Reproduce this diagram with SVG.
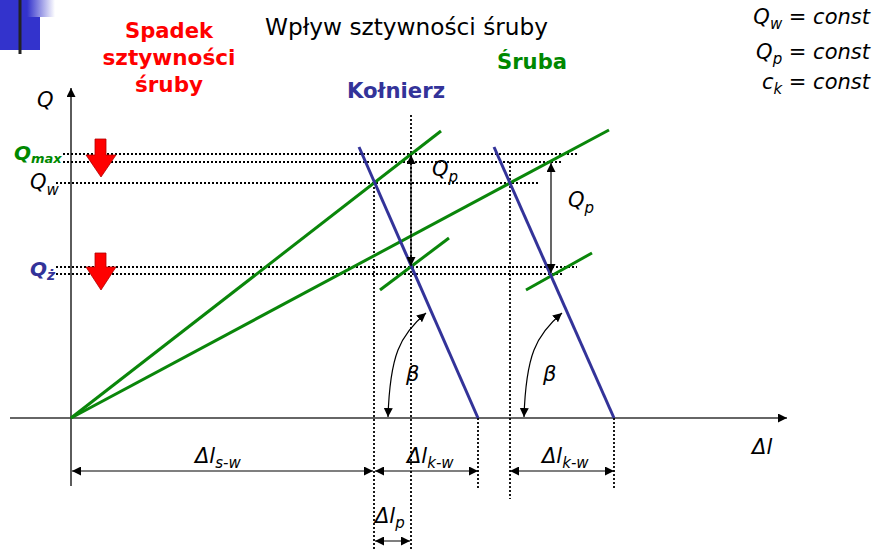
<svg xmlns="http://www.w3.org/2000/svg" width="883" height="549" viewBox="0 0 883 549">
<style>
text{font-family:"DejaVu Sans","Liberation Sans",sans-serif;}
.it{font-style:italic;font-size:21px;fill:#000;}
.sub{font-size:15px;}
.axis{stroke:#333;stroke-width:1.6;fill:none;}
.dot{stroke:#000;stroke-width:1.8;stroke-dasharray:2 2;fill:none;}
.green{stroke:#0a860a;stroke-width:3;fill:none;}
.blue{stroke:#333399;stroke-width:3;fill:none;}
.dim{stroke:#000;stroke-width:1.2;fill:none;}
.red{fill:#ff0000;stroke:#b00000;stroke-width:0.8;}
</style>
<defs>
<linearGradient id="fade" x1="0" y1="0" x2="1" y2="0">
<stop offset="0" stop-color="#3333cc"/>
<stop offset="1" stop-color="#3333cc" stop-opacity="0"/>
</linearGradient>
<marker id="ah" viewBox="0 0 10 10" refX="10" refY="5" markerWidth="9" markerHeight="9" markerUnits="userSpaceOnUse" orient="auto-start-reverse">
<path d="M0,0 L10,5 L0,10 z" fill="#000"/>
</marker>
</defs>
<g id="decoration">
<rect x="0" y="0" width="27" height="17" fill="#3333cc"/>
<rect x="27" y="0" width="28" height="17" fill="url(#fade)"/>
<rect x="0" y="17" width="40" height="33" fill="#3333cc"/>
<line x1="20" y1="0" x2="20" y2="54" stroke="#222" stroke-width="3"/>
</g>
<g id="title">
<text x="265" y="35" font-size="23" fill="#000" textLength="283" lengthAdjust="spacingAndGlyphs">Wpływ sztywności śruby</text>
</g>
<g id="label-spadek" fill="#ff0000" font-weight="bold" font-size="21" text-anchor="middle">
<text x="169" y="38" fill="#ff0000" font-weight="bold" textLength="88" lengthAdjust="spacingAndGlyphs">Spadek</text>
<text x="169" y="65" fill="#ff0000" font-weight="bold" textLength="133" lengthAdjust="spacingAndGlyphs">sztywności</text>
<text x="169" y="92" fill="#ff0000" font-weight="bold" textLength="68" lengthAdjust="spacingAndGlyphs">śruby</text>
</g>
<g id="label-kolnierz">
<text x="347" y="98" font-size="21" font-weight="bold" fill="#333399" textLength="98" lengthAdjust="spacingAndGlyphs">Kołnierz</text>
</g>
<g id="label-sruba">
<text x="497" y="69" font-size="21" font-weight="bold" fill="#008800" textLength="70" lengthAdjust="spacingAndGlyphs">Śruba</text>
</g>
<g id="constants" class="it">
<text x="870" y="24" text-anchor="end" class="it">Q<tspan class="sub" dy="5">w</tspan><tspan dy="-5"> = const</tspan></text>
<text x="870" y="59" text-anchor="end" class="it">Q<tspan class="sub" dy="5">p</tspan><tspan dy="-5"> = const</tspan></text>
<text x="870" y="89" text-anchor="end" class="it">c<tspan class="sub" dy="5">k</tspan><tspan dy="-5"> = const</tspan></text>
</g>
<g id="axes">
<line class="axis" x1="71" y1="486" x2="71" y2="88" marker-end="url(#ah)"/>
<line class="axis" x1="10" y1="418" x2="787" y2="418" marker-end="url(#ah)"/>
<text x="37" y="107" class="it">Q</text>
<text x="752" y="454" class="it">Δ<tspan>l</tspan></text>
</g>
<g id="dotted-lines">
<line class="dot" x1="63" y1="154" x2="577" y2="154"/>
<line class="dot" x1="63" y1="162" x2="562" y2="162"/>
<line class="dot" x1="56" y1="183" x2="539" y2="183"/>
<line class="dot" x1="56" y1="267" x2="577" y2="267"/>
<line class="dot" x1="56" y1="274" x2="563" y2="274"/>
<line class="dot" x1="374" y1="183" x2="374" y2="549"/>
<line class="dot" x1="411" y1="115" x2="411" y2="549"/>
<line class="dot" x1="510" y1="162" x2="510" y2="499"/>
<line class="dot" x1="478" y1="418" x2="478" y2="488"/>
<line class="dot" x1="614" y1="418" x2="614" y2="488"/>
</g>
<g id="screw-lines">
<line class="green" x1="71" y1="418" x2="441" y2="131"/>
<line class="green" x1="71" y1="418" x2="609" y2="130"/>
<line class="green" x1="380" y1="290" x2="449" y2="238"/>
<line class="green" x1="526" y1="290" x2="592" y2="253"/>
</g>
<g id="flange-lines">
<line class="blue" x1="359" y1="147" x2="478" y2="418"/>
<line class="blue" x1="494" y1="147" x2="614" y2="418"/>
</g>
<g id="red-arrows">
<path class="red" d="M95,139 H106 V155 H116 L101,177 L86,155 H95 Z"/>
<path class="red" d="M95,253 H106 V267 H116 L101,290 L86,267 H95 Z"/>
</g>
<g id="q-labels">
<text x="14" y="160" font-size="20" font-weight="bold" font-style="italic" fill="#008800">Q<tspan font-size="13" dy="3">max</tspan></text>
<text x="30" y="189" class="it">Q<tspan class="sub" dy="6">w</tspan></text>
<text x="30" y="276" font-size="20" font-weight="bold" font-style="italic" fill="#333399">Q<tspan font-size="14" dy="4">ż</tspan></text>
</g>
<g id="connectors">
<line class="dim" x1="411" y1="155" x2="411" y2="266" marker-start="url(#ah)" marker-end="url(#ah)"/>
<line class="dim" x1="551" y1="163" x2="551" y2="273" marker-start="url(#ah)" marker-end="url(#ah)"/>
<path class="dim" d="M426,313 C400,335 390,355 388,417" marker-start="url(#ah)" marker-end="url(#ah)"/>
<path class="dim" d="M562,313 C536,335 526,355 524,417" marker-start="url(#ah)" marker-end="url(#ah)"/>
<line class="dim" x1="72" y1="471" x2="373" y2="471" marker-start="url(#ah)" marker-end="url(#ah)"/>
<line class="dim" x1="375" y1="471" x2="478" y2="471" marker-start="url(#ah)" marker-end="url(#ah)"/>
<line class="dim" x1="510" y1="471" x2="614" y2="471" marker-start="url(#ah)" marker-end="url(#ah)"/>
<line class="dim" x1="375" y1="541" x2="410" y2="541" marker-start="url(#ah)" marker-end="url(#ah)"/>
</g>
<g id="dim-labels">
<text x="432" y="176" class="it">Q<tspan class="sub" dy="6">p</tspan></text>
<text x="568" y="207" class="it">Q<tspan class="sub" dy="6">p</tspan></text>
<text x="406" y="381" class="it">β</text>
<text x="543" y="381" class="it">β</text>
<text x="195" y="463" class="it">Δl<tspan class="sub" dy="5">s-w</tspan></text>
<text x="407" y="463" class="it">Δl<tspan class="sub" dy="5">k-w</tspan></text>
<text x="542" y="463" class="it">Δl<tspan class="sub" dy="5">k-w</tspan></text>
<text x="375" y="523" class="it">Δl<tspan class="sub" dy="5">p</tspan></text>
</g>
</svg>
